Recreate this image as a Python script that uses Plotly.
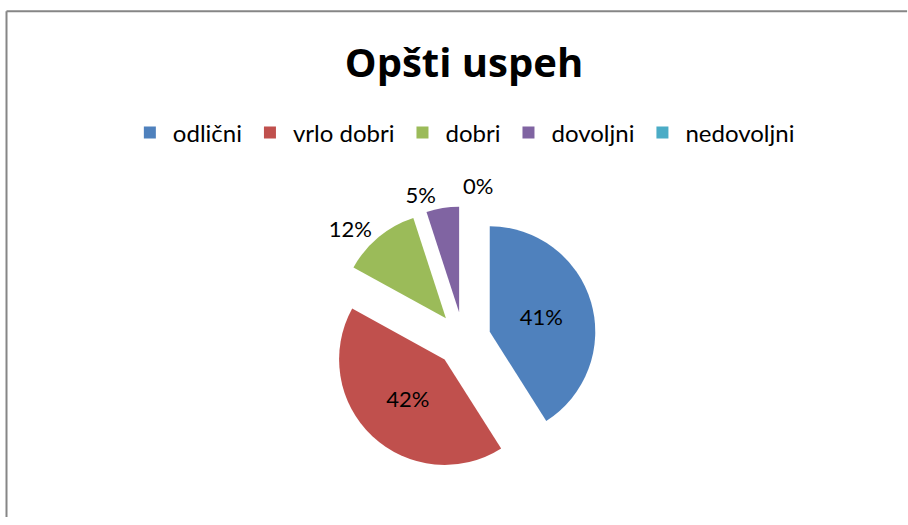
import math
import plotly.graph_objects as go

labels = ["odlični", "vrlo dobri", "dobri", "dovoljni", "nedovoljni"]
values = [41, 42, 12, 5, 0]
colors = ["#4F81BD", "#C0504D", "#9BBB59", "#8064A2", "#4BACC6"]
text_positions = ["inside", "inside", "outside", "outside", "none"]
title_text = "Opšti uspeh"

W, H = 908, 525
PULL = 0.26

# pie box (pixels)
px0, px1 = 328.4, 598.4
py0, py1 = 209.7, 479.7

fig = go.Figure(go.Pie(
    labels=labels,
    values=values,
    sort=False,
    direction="clockwise",
    rotation=0,
    pull=[PULL] * len(values),
    marker=dict(colors=colors, line=dict(width=0)),
    textinfo="percent",
    texttemplate="%{percent:.0%}",
    textposition=text_positions,
    insidetextorientation="horizontal",
    textfont=dict(family="Lato", size=22, color="black"),
    outsidetextfont=dict(family="Lato", size=22, color="black"),
    insidetextfont=dict(family="Lato", size=22, color="black"),
    domain=dict(x=[px0 / W, px1 / W], y=[1 - py1 / H, 1 - py0 / H]),
    hoverinfo="label+percent",
))

# label for zero-value slice (plotly does not label empty slices) placed at
# its angular position derived from the data
total = sum(values)
annotations = []
cum = 0
for lab, v, pos in zip(labels, values, text_positions):
    mid = (cum + v / 2) / total
    cum += v
    if pos == "none":
        cx = (px0 + px1) / 2
        cy = (py0 + py1) / 2
        r = (px1 - px0) / (2 + 2 * PULL)
        ang = 2 * math.pi * mid + 0.09
        dist = r * (1 + PULL) + 22
        x = cx + dist * math.sin(ang)
        y = cy - dist * math.cos(ang)
        annotations.append(dict(
            x=x / W, y=1 - y / H, xref="paper", yref="paper",
            text=f"{round(100 * v / total)}%", showarrow=False,
            font=dict(family="Lato", size=22, color="black"),
            xanchor="center", yanchor="middle"))

fig.update_layout(
    width=W, height=H,
    margin=dict(l=0, r=0, t=0, b=0),
    paper_bgcolor="white",
    plot_bgcolor="white",
    title=dict(text="<b>" + title_text + "</b>", x=464 / W, xanchor="center",
               y=1 - 63 / H, yanchor="middle",
               font=dict(family="Open Sans", size=40, color="black")),
    showlegend=True,
    legend=dict(orientation="h", x=0.5103, xanchor="center", y=1 - 135 / H, yanchor="middle",
                font=dict(family="Lato", size=24, color="black"),
                itemwidth=36,
                traceorder="normal", itemclick=False),
    annotations=annotations,
    shapes=[
        dict(type="line", xref="paper", yref="paper",
             x0=6.5 / W, x1=6.5 / W, y0=0, y1=1 - 11.5 / H,
             line=dict(color="#868686", width=2)),
        dict(type="line", xref="paper", yref="paper",
             x0=6.5 / W, x1=0.999, y0=1 - 11.5 / H, y1=1 - 11.5 / H,
             line=dict(color="#868686", width=2)),
    ],
)

fig.write_html("out.html")
